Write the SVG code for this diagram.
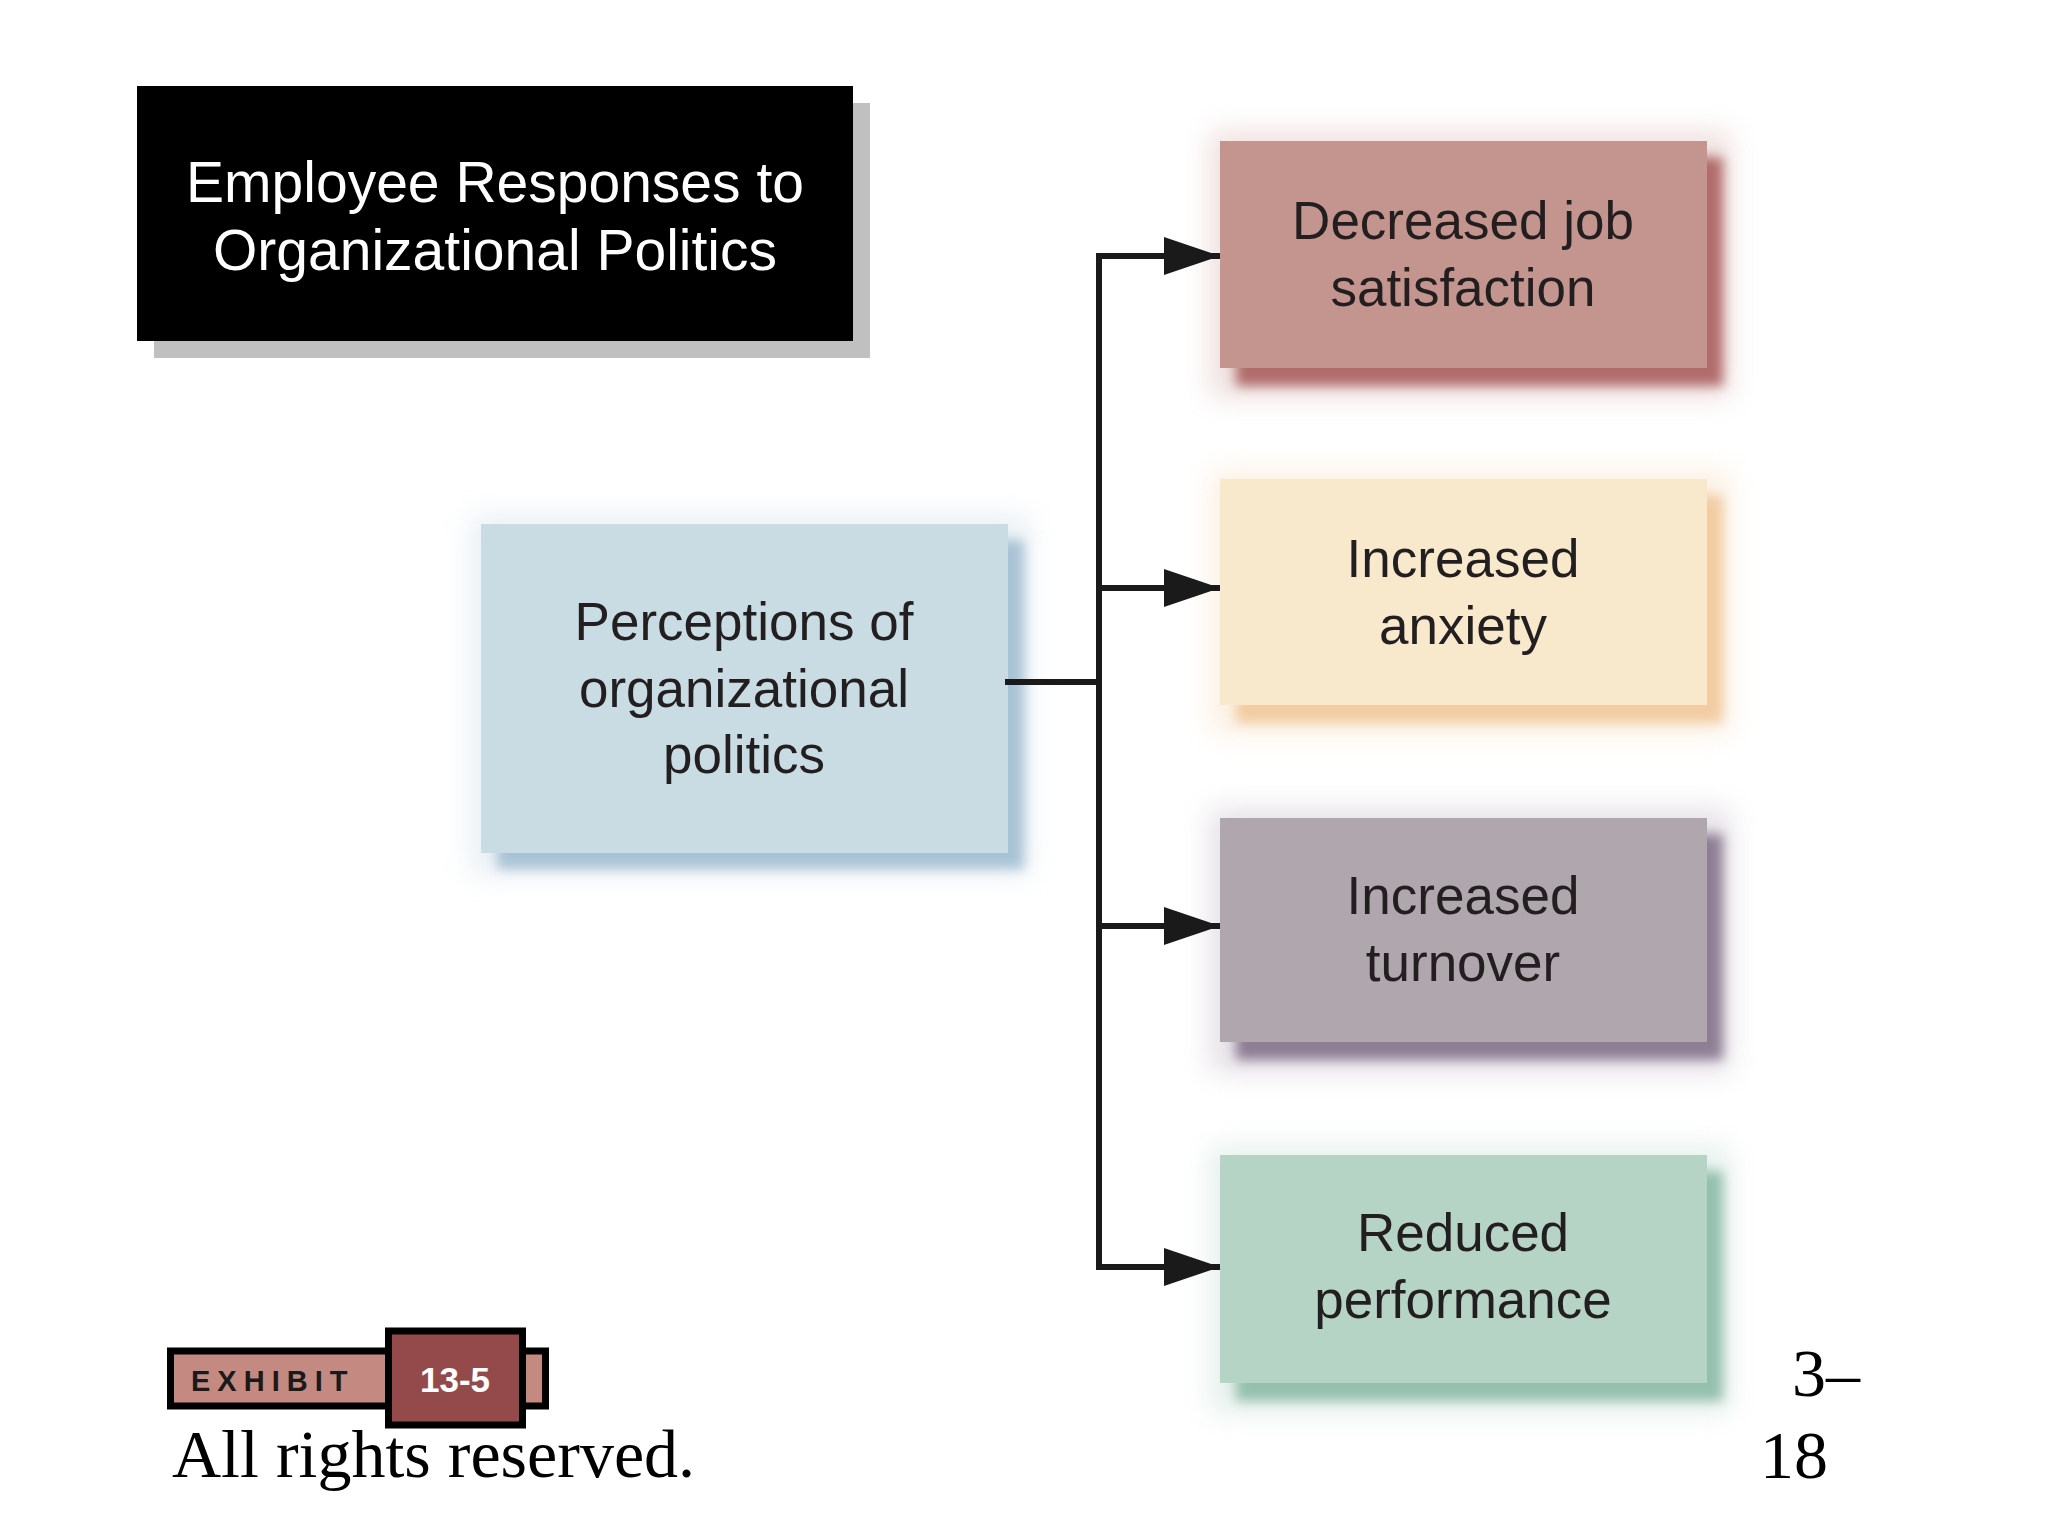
<svg xmlns="http://www.w3.org/2000/svg" width="2048" height="1536" viewBox="0 0 2048 1536">
<style>
.t{font-family:"Liberation Sans",Arial,sans-serif;fill:#231f20;font-size:53px;text-anchor:middle}
.title{font-family:"Liberation Sans",Arial,sans-serif;fill:#ffffff;font-size:57px;text-anchor:middle}
.serif{font-family:"Liberation Serif","Times New Roman",serif;fill:#000;font-size:68px}
.conn{stroke:#1a1a1a;stroke-width:6;fill:none}
</style>
<defs>
<filter id="sh" x="-20%" y="-20%" width="140%" height="140%"><feGaussianBlur stdDeviation="6"/></filter>
<filter id="halo" x="-30%" y="-30%" width="160%" height="160%"><feGaussianBlur stdDeviation="14"/></filter>
<marker id="arr" viewBox="0 0 56 38" refX="56" refY="19" markerWidth="56" markerHeight="38" markerUnits="userSpaceOnUse" orient="auto">
<path d="M0,0 L56,19 L0,38 Z" fill="#1a1a1a"/>
</marker>
</defs>
<rect width="2048" height="1536" fill="#ffffff"/>

<g id="title">
<rect x="154" y="103" width="716" height="255" fill="#c0c0c0"/>
<rect x="137" y="86" width="716" height="255" fill="#000000"/>
<text class="title" x="495" y="202">Employee Responses to</text>
<text class="title" x="495" y="270">Organizational Politics</text>
</g>

<g id="perceptions">
<rect x="470" y="515" width="560" height="360" fill="#a9c3d6" opacity="0.25" filter="url(#halo)"/>
<rect x="497" y="540" width="527" height="329" fill="#a9c3d6" filter="url(#sh)"/>
<rect x="481" y="524" width="527" height="329" fill="#c9dce4"/>
<text class="t" x="744" y="640">Perceptions of</text>
<text class="t" x="744" y="707">organizational</text>
<text class="t" x="744" y="773">politics</text>
</g>

<g id="box1">
<rect x="1210" y="132" width="520" height="265" fill="#c4958f" opacity="0.3" filter="url(#halo)"/>
<rect x="1236" y="157" width="487" height="229" fill="#b06c6a" filter="url(#sh)"/>
<rect x="1220" y="141" width="487" height="227" fill="#c4958f"/>
<text class="t" x="1463" y="239">Decreased job</text>
<text class="t" x="1463" y="306">satisfaction</text>
</g>

<g id="box2">
<rect x="1210" y="470" width="520" height="265" fill="#f4d6b0" opacity="0.35" filter="url(#halo)"/>
<rect x="1236" y="495" width="487" height="228" fill="#f2cca2" filter="url(#sh)"/>
<rect x="1220" y="479" width="487" height="226" fill="#f8e9cc"/>
<text class="t" x="1463" y="577">Increased</text>
<text class="t" x="1463" y="644">anxiety</text>
</g>

<g id="box3">
<rect x="1210" y="809" width="520" height="263" fill="#a899ac" opacity="0.3" filter="url(#halo)"/>
<rect x="1236" y="834" width="487" height="226" fill="#8e7e94" filter="url(#sh)"/>
<rect x="1220" y="818" width="487" height="224" fill="#b0a6ae"/>
<text class="t" x="1463" y="914">Increased</text>
<text class="t" x="1463" y="981">turnover</text>
</g>

<g id="box4">
<rect x="1210" y="1146" width="520" height="267" fill="#a9ccbd" opacity="0.3" filter="url(#halo)"/>
<rect x="1236" y="1171" width="487" height="230" fill="#94c0ae" filter="url(#sh)"/>
<rect x="1220" y="1155" width="487" height="228" fill="#b6d4c6"/>
<text class="t" x="1463" y="1251">Reduced</text>
<text class="t" x="1463" y="1318">performance</text>
</g>

<g id="connectors">
<path class="conn" d="M1005,682 H1099"/>
<path class="conn" d="M1099,256 V1267"/>
<path class="conn" d="M1096,256 H1220" marker-end="url(#arr)"/>
<path class="conn" d="M1099,588 H1220" marker-end="url(#arr)"/>
<path class="conn" d="M1099,926 H1220" marker-end="url(#arr)"/>
<path class="conn" d="M1096,1267 H1220" marker-end="url(#arr)"/>
</g>

<g id="exhibit">
<rect x="170.5" y="1351" width="375" height="55" fill="#c48a82" stroke="#000" stroke-width="7"/>
<rect x="388.5" y="1331" width="134" height="94" fill="#944a4a" stroke="#000" stroke-width="7"/>
<text x="191" y="1391" font-family="'Liberation Sans',Arial,sans-serif" font-weight="bold" font-size="29" letter-spacing="7" fill="#1a1a1a">EXHIBIT</text>
<text x="455" y="1392" font-family="'Liberation Sans',Arial,sans-serif" font-weight="bold" font-size="35" fill="#ffffff" text-anchor="middle">13-5</text>
</g>

<text class="serif" x="172" y="1477">All rights reserved.</text>
<text class="serif" x="1792" y="1396">3–</text>
<text class="serif" x="1760" y="1478">18</text>
</svg>
